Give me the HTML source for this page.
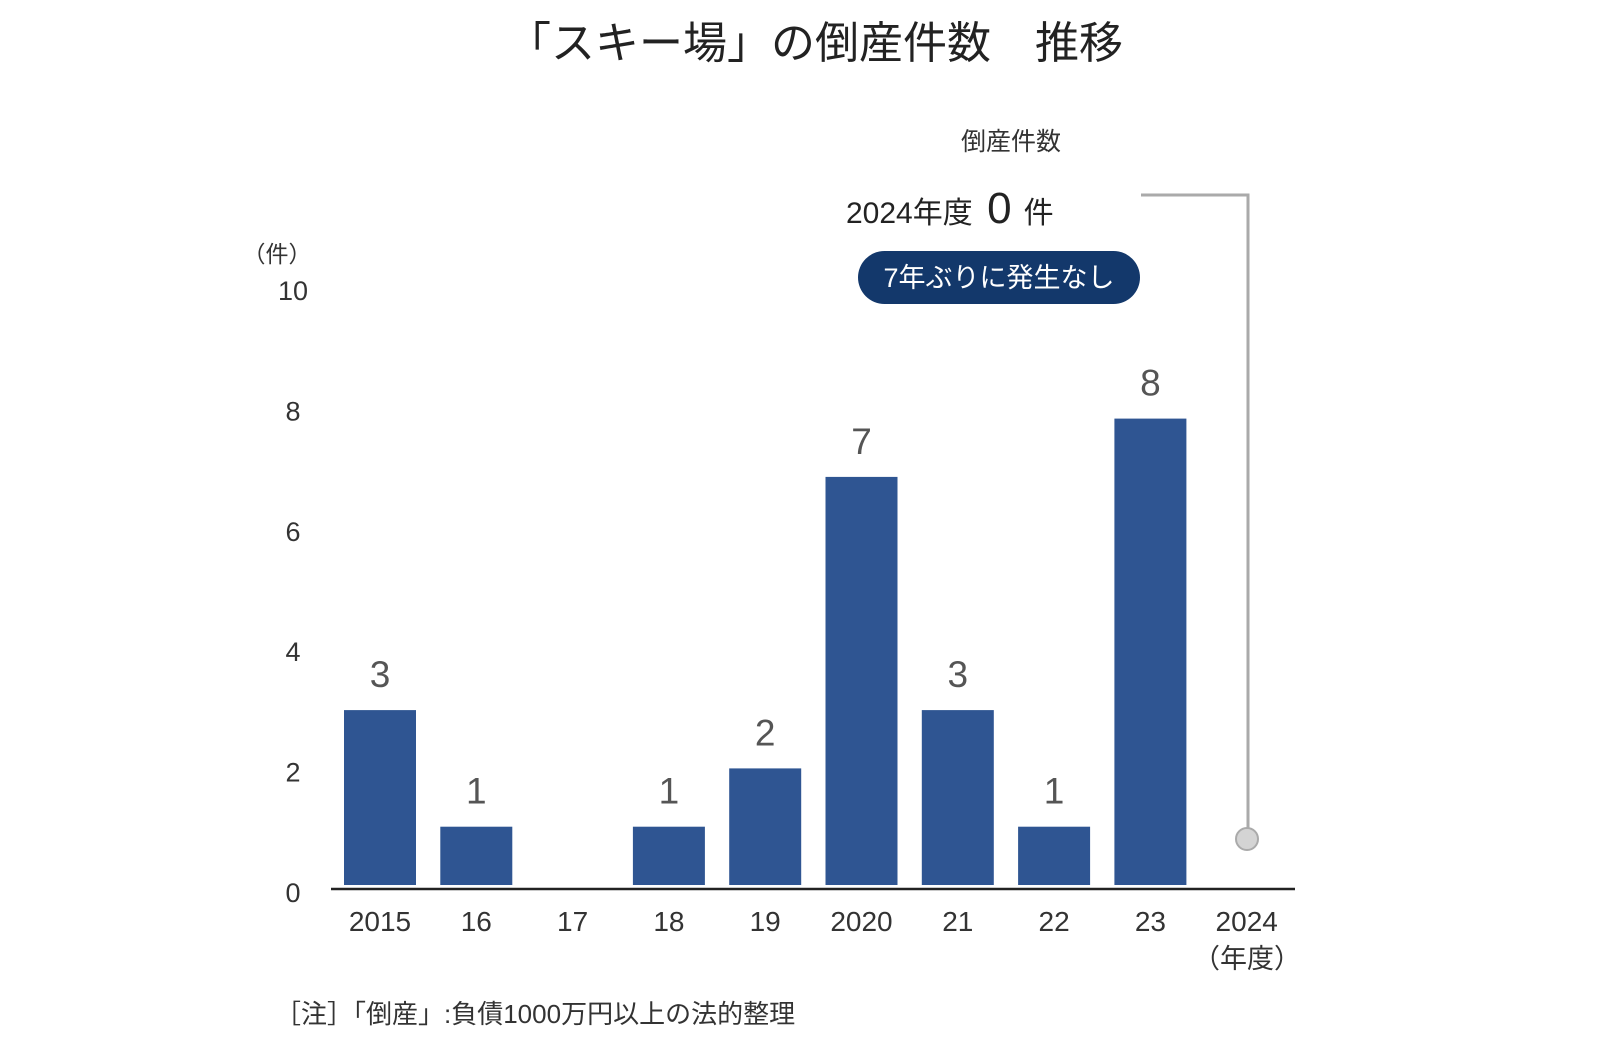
<!DOCTYPE html>
<html><head><meta charset="utf-8"><style>
body{margin:0;background:#fff;}
svg{display:block;font-family:"Liberation Sans","Noto Sans CJK JP",sans-serif;}
</style></head><body>
<svg width="1600" height="1046" viewBox="0 0 1600 1046">
<text x="815" y="58" text-anchor="middle" font-size="44" fill="#222">「スキー場」の倒産件数　推移</text>
<text x="277" y="262" text-anchor="middle" font-size="23" fill="#333">（件）</text>
<g id="yticks"></g>
<g id="bars"></g>
<line x1="331" y1="889" x2="1295" y2="889" stroke="#222" stroke-width="2.5"/>
<g id="xlabels"></g>
<text x="1247" y="968" text-anchor="middle" font-size="27" fill="#333">（年度）</text>
<text x="1011" y="150" text-anchor="middle" font-size="25" fill="#333">倒産件数</text>
<text x="846" y="223" font-size="30" fill="#222">2024年度 <tspan font-size="44" dx="6">0</tspan><tspan dx="12">件</tspan></text>
<rect x="858" y="251" width="282" height="53" rx="26.5" fill="#13386b"/>
<text x="999" y="287" text-anchor="middle" font-size="27" fill="#fff">7年ぶりに発生なし</text>
<polyline points="1141,195 1248,195 1248,828" fill="none" stroke="#aaa" stroke-width="3"/>
<circle cx="1247" cy="839" r="11" fill="#d4d4d4" stroke="#aaa" stroke-width="2"/>
<text x="275" y="1023" font-size="26" fill="#333">［注］「倒産」:負債1000万円以上の法的整理</text>
</svg>
<script>
const categories=["2015","16","17","18","19","2020","21","22","23","2024"];
const values=[3,1,0,1,2,7,3,1,8,null];
const tickLabels=[0,2,4,6,8,10];
const NS="http://www.w3.org/2000/svg";
const x0=380,step=96.3,barW=72,base=885,unit=58.3;
const xPos=i=>x0+i*step;
const yPos=v=>base-v*unit;
const tickY=v=>893-v*60.2;
const yt=document.getElementById('yticks'),bg=document.getElementById('bars'),xl=document.getElementById('xlabels');
tickLabels.forEach(t=>{
 const e=document.createElementNS(NS,'text');
 
 
 e.setAttribute('x',293);e.setAttribute('y',tickY(t)+9);e.setAttribute('text-anchor','middle');
 e.setAttribute('font-size','27');e.setAttribute('fill','#333');e.textContent=t;yt.appendChild(e);
});
categories.forEach((c,i)=>{
 const e=document.createElementNS(NS,'text');
 
 
 e.setAttribute('x',xPos(i));e.setAttribute('y',931);e.setAttribute('text-anchor','middle');
 e.setAttribute('font-size','28');e.setAttribute('fill','#333');e.textContent=c;xl.appendChild(e);
 const v=values[i];
 if(v){
  const r=document.createElementNS(NS,'rect');
  
  
  r.setAttribute('x',xPos(i)-barW/2);r.setAttribute('y',yPos(v));r.setAttribute('width',barW);r.setAttribute('height',base-yPos(v));
  r.setAttribute('fill','#2f5592');bg.appendChild(r);
  const l=document.createElementNS(NS,'text');
  
  
  l.setAttribute('x',xPos(i));l.setAttribute('y',yPos(v)-23);l.setAttribute('text-anchor','middle');
  l.setAttribute('font-size','37');l.setAttribute('fill','#555');l.textContent=v;bg.appendChild(l);
 }
});
</script>
</body></html>
